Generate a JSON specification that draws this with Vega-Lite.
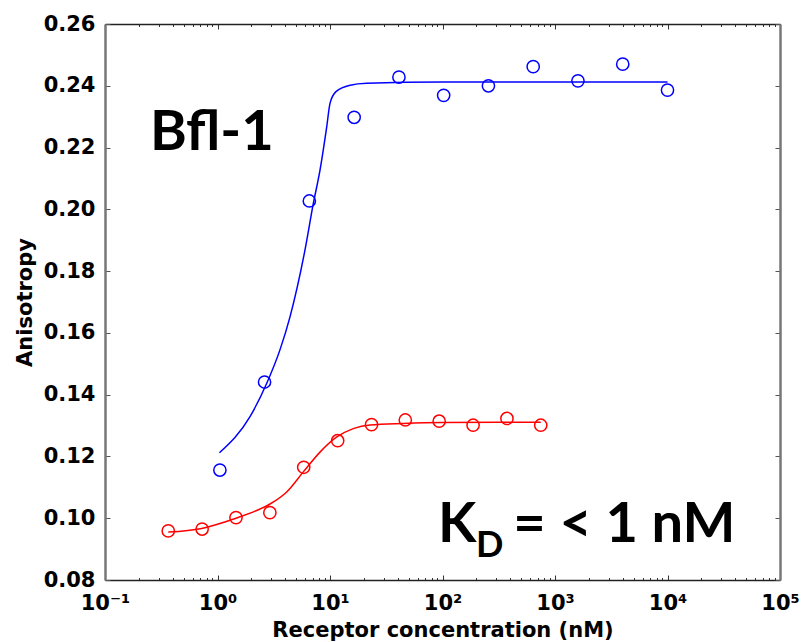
{
  "$schema": "https://vega.github.io/schema/vega-lite/v6.json",
  "width": 675,
  "height": 556,
  "autosize": "none",
  "padding": {"left": 105, "top": 24, "right": 23, "bottom": 62},
  "background": "white",
  "config": {
    "view": {"stroke": null},
    "axis": {"grid": false, "labelColor": "black", "titleColor": "black"}
  },
  "datasets": {
    "measured": [
      {"conc": 1.05, "anisotropy": 0.1156, "series": "A"},
      {"conc": 2.62, "anisotropy": 0.1441, "series": "A"},
      {"conc": 6.55, "anisotropy": 0.2027, "series": "A"},
      {"conc": 16.4, "anisotropy": 0.2298, "series": "A"},
      {"conc": 41, "anisotropy": 0.2428, "series": "A"},
      {"conc": 102.4, "anisotropy": 0.2369, "series": "A"},
      {"conc": 256, "anisotropy": 0.2400, "series": "A"},
      {"conc": 640, "anisotropy": 0.2462, "series": "A"},
      {"conc": 1600, "anisotropy": 0.2416, "series": "A"},
      {"conc": 4000, "anisotropy": 0.2470, "series": "A"},
      {"conc": 10000, "anisotropy": 0.2386, "series": "A"},
      {"conc": 0.365, "anisotropy": 0.0959, "series": "B"},
      {"conc": 0.73, "anisotropy": 0.0965, "series": "B"},
      {"conc": 1.46, "anisotropy": 0.1002, "series": "B"},
      {"conc": 2.92, "anisotropy": 0.1018, "series": "B"},
      {"conc": 5.84, "anisotropy": 0.1165, "series": "B"},
      {"conc": 11.7, "anisotropy": 0.1251, "series": "B"},
      {"conc": 23.4, "anisotropy": 0.1303, "series": "B"},
      {"conc": 46.7, "anisotropy": 0.1318, "series": "B"},
      {"conc": 93.4, "anisotropy": 0.1314, "series": "B"},
      {"conc": 187, "anisotropy": 0.1301, "series": "B"},
      {"conc": 374, "anisotropy": 0.1323, "series": "B"},
      {"conc": 747, "anisotropy": 0.1301, "series": "B"}
    ],
    "fitted": [
      {"conc": 1.04, "anisotropy": 0.1212, "series": "A"},
      {"conc": 1.945, "anisotropy": 0.1329, "series": "A"},
      {"conc": 2.74, "anisotropy": 0.1437, "series": "A"},
      {"conc": 3.59, "anisotropy": 0.1545, "series": "A"},
      {"conc": 4.41, "anisotropy": 0.1652, "series": "A"},
      {"conc": 5.99, "anisotropy": 0.1868, "series": "A"},
      {"conc": 7.11, "anisotropy": 0.2019, "series": "A"},
      {"conc": 8.15, "anisotropy": 0.2127, "series": "A"},
      {"conc": 9.35, "anisotropy": 0.2267, "series": "A"},
      {"conc": 10.0, "anisotropy": 0.2343, "series": "A"},
      {"conc": 11.3, "anisotropy": 0.2381, "series": "A"},
      {"conc": 15.1, "anisotropy": 0.2402, "series": "A"},
      {"conc": 21.2, "anisotropy": 0.2408, "series": "A"},
      {"conc": 100, "anisotropy": 0.2412, "series": "A"},
      {"conc": 10000, "anisotropy": 0.2412, "series": "A"},
      {"conc": 0.365, "anisotropy": 0.0955, "series": "B"},
      {"conc": 0.724, "anisotropy": 0.0967, "series": "B"},
      {"conc": 1.46, "anisotropy": 0.1000, "series": "B"},
      {"conc": 2.23, "anisotropy": 0.1025, "series": "B"},
      {"conc": 2.93, "anisotropy": 0.1046, "series": "B"},
      {"conc": 4.12, "anisotropy": 0.1085, "series": "B"},
      {"conc": 5.79, "anisotropy": 0.1150, "series": "B"},
      {"conc": 8.15, "anisotropy": 0.1214, "series": "B"},
      {"conc": 11.5, "anisotropy": 0.1263, "series": "B"},
      {"conc": 16.1, "anisotropy": 0.1290, "series": "B"},
      {"conc": 22.7, "anisotropy": 0.1302, "series": "B"},
      {"conc": 44.9, "anisotropy": 0.1307, "series": "B"},
      {"conc": 100, "anisotropy": 0.1310, "series": "B"},
      {"conc": 747, "anisotropy": 0.1311, "series": "B"}
    ],
    "notes": [
      {"conc": 0.251, "anisotropy": 0.2192, "label": "Bfl-1"},
      {"conc": 91.2, "anisotropy": 0.0924, "label": "K"},
      {"conc": 426, "anisotropy": 0.0924, "label": "= < 1 nM"}
    ],
    "subscripts": [
      {"conc": 198.6, "anisotropy": 0.0874, "label": "D"}
    ]
  },
  "resolve": {"axis": {"x": "independent", "y": "independent"}},
  "layer": [
    {
      "data": {"name": "fitted"},
      "mark": {"type": "line", "strokeWidth": 1.5, "interpolate": "monotone"},
      "encoding": {
        "x": {
          "field": "conc", "type": "quantitative",
          "scale": {"type": "log", "domain": [0.1, 100000], "nice": false},
          "axis": {
            "orient": "bottom",
            "title": "Receptor concentration (nM)",
            "titleFont": "DejaVu Sans", "titleFontWeight": "bold", "titleFontSize": 21,
            "titlePadding": 4,
            "values": [0.1, 0.2, 0.3, 0.4, 0.5, 0.6, 0.7, 0.8, 0.9, 1, 2, 3, 4, 5, 6, 7, 8, 9, 10, 20, 30, 40, 50, 60, 70, 80, 90, 100, 200, 300, 400, 500, 600, 700, 800, 900, 1000, 2000, 3000, 4000, 5000, 6000, 7000, 8000, 9000, 10000, 20000, 30000, 40000, 50000, 60000, 70000, 80000, 90000, 100000],
            "labelExpr": "datum.value == 0.1 ? '10⁻¹' : datum.value == 1 ? '10⁰' : datum.value == 10 ? '10¹' : datum.value == 100 ? '10²' : datum.value == 1000 ? '10³' : datum.value == 10000 ? '10⁴' : datum.value == 100000 ? '10⁵' : ''",
            "labelFont": "DejaVu Sans", "labelFontWeight": "bold", "labelFontSize": 21,
            "labelPadding": 17, "labelFlush": false, "labelOverlap": false,
            "tickSize": {"condition": {"test": "indexof([0.1, 1, 10, 100, 1000, 10000, 100000], datum.value) >= 0", "value": -5}, "value": -2.5},
            "tickColor": "#333", "tickWidth": 1,
            "domainColor": "#222", "domainWidth": 1.5
          }
        },
        "y": {
          "field": "anisotropy", "type": "quantitative",
          "scale": {"domain": [0.08, 0.26], "nice": false, "zero": false},
          "axis": {
            "orient": "left",
            "title": "Anisotropy",
            "titleFont": "DejaVu Sans", "titleFontWeight": "bold", "titleFontSize": 21,
            "titlePadding": 8,
            "values": [0.08, 0.10, 0.12, 0.14, 0.16, 0.18, 0.20, 0.22, 0.24, 0.26],
            "format": ".2f",
            "labelFont": "DejaVu Sans", "labelFontWeight": "bold", "labelFontSize": 21,
            "labelPadding": 15, "labelFlush": false, "labelOverlap": false,
            "tickSize": -5, "tickColor": "#555", "tickWidth": 1,
            "domainColor": "#777", "domainWidth": 2.5
          }
        },
        "color": {
          "field": "series", "type": "nominal",
          "scale": {"domain": ["A", "B"], "range": ["#0000ff", "#ff0000"]},
          "legend": null
        }
      }
    },
    {
      "data": {"name": "measured"},
      "mark": {"type": "point", "shape": "circle", "filled": false, "size": 150, "strokeWidth": 1.5, "opacity": 1},
      "encoding": {
        "x": {
          "field": "conc", "type": "quantitative",
          "axis": {
            "orient": "top", "title": null, "labels": false,
            "values": [0.1, 0.2, 0.3, 0.4, 0.5, 0.6, 0.7, 0.8, 0.9, 1, 2, 3, 4, 5, 6, 7, 8, 9, 10, 20, 30, 40, 50, 60, 70, 80, 90, 100, 200, 300, 400, 500, 600, 700, 800, 900, 1000, 2000, 3000, 4000, 5000, 6000, 7000, 8000, 9000, 10000, 20000, 30000, 40000, 50000, 60000, 70000, 80000, 90000, 100000],
            "tickSize": {"condition": {"test": "indexof([0.1, 1, 10, 100, 1000, 10000, 100000], datum.value) >= 0", "value": -5}, "value": -2.5},
            "tickColor": "#333", "tickWidth": 1,
            "domainColor": "#222", "domainWidth": 1.5
          }
        },
        "y": {
          "field": "anisotropy", "type": "quantitative",
          "axis": {
            "orient": "right", "title": null, "labels": false,
            "values": [0.08, 0.10, 0.12, 0.14, 0.16, 0.18, 0.20, 0.22, 0.24, 0.26],
            "tickSize": -5, "tickColor": "#555", "tickWidth": 1,
            "domainColor": "#777", "domainWidth": 2.5
          }
        },
        "color": {"field": "series", "type": "nominal", "legend": null}
      }
    },
    {
      "data": {"name": "notes"},
      "mark": {"type": "text", "align": "left", "baseline": "alphabetic", "font": "Lato", "fontWeight": "bold", "fontSize": 56, "color": "black"},
      "encoding": {
        "x": {"field": "conc", "type": "quantitative", "axis": null},
        "y": {"field": "anisotropy", "type": "quantitative", "axis": null},
        "text": {"field": "label"}
      }
    },
    {
      "data": {"name": "subscripts"},
      "mark": {"type": "text", "align": "left", "baseline": "alphabetic", "font": "Lato", "fontWeight": "bold", "fontSize": 36, "color": "black"},
      "encoding": {
        "x": {"field": "conc", "type": "quantitative", "axis": null},
        "y": {"field": "anisotropy", "type": "quantitative", "axis": null},
        "text": {"field": "label"}
      }
    }
  ]
}
